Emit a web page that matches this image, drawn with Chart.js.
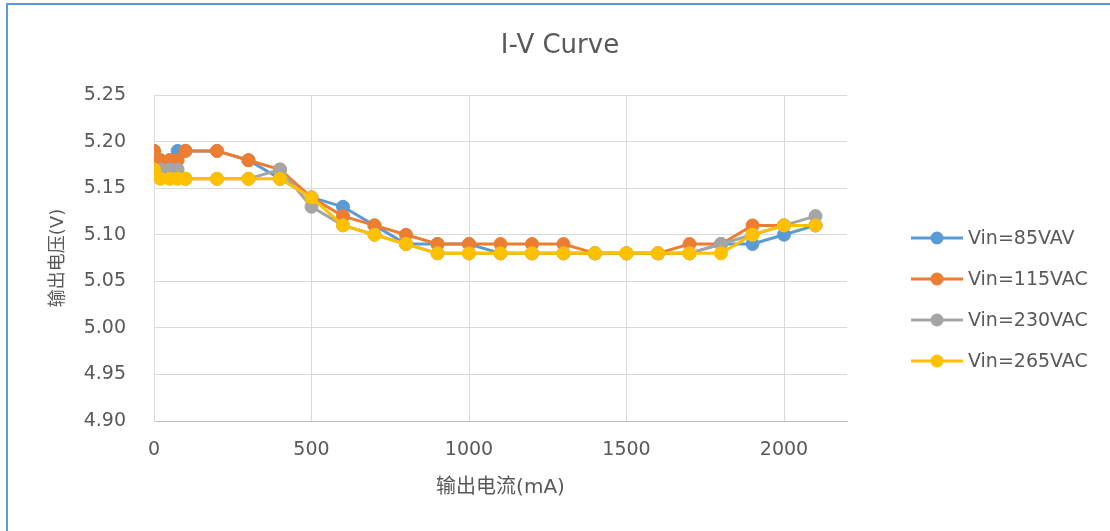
<!DOCTYPE html>
<html>
<head>
<meta charset="utf-8">
<script src="https://cdn.jsdelivr.net/npm/chart.js@4"></script>
<style>
html,body{margin:0;padding:0;background:#fff;}
#wrap{position:relative;width:1110px;height:531px;}
#frame{position:absolute;left:6px;top:3px;width:1110px;height:540px;border-top:2px solid #5B9BD5;border-left:2px solid #5B9BD5;pointer-events:none;}
canvas{position:absolute;left:0;top:0;}
</style>
</head>
<body>
<div id="wrap"><canvas id="c" width="1110" height="531"></canvas><div id="frame"></div></div>
<script>
const chartTitle = "I-V Curve";
const xTitle = "输出电流(mA)";
const yTitle = "输出电压(V)";
const currents = [0, 20, 50, 75, 100, 200, 300, 400, 500, 600, 700, 800, 900, 1000, 1100, 1200, 1300, 1400, 1500, 1600, 1700, 1800, 1900, 2000, 2100];
const seriesNames = ["Vin=85VAV", "Vin=115VAC", "Vin=230VAC", "Vin=265VAC"];
const seriesColors = ["#5B9BD5", "#ED7D31", "#A5A5A5", "#FFC000"];
const vin85  = [5.19, 5.18, 5.18, 5.19, 5.19, 5.19, 5.18, 5.16, 5.14, 5.13, 5.11, 5.09, 5.09, 5.09, 5.08, 5.08, 5.08, 5.08, 5.08, 5.08, 5.08, 5.09, 5.09, 5.10, 5.11];
const vin115 = [5.19, 5.18, 5.18, 5.18, 5.19, 5.19, 5.18, 5.17, 5.14, 5.12, 5.11, 5.10, 5.09, 5.09, 5.09, 5.09, 5.09, 5.08, 5.08, 5.08, 5.09, 5.09, 5.11, 5.11, 5.11];
const vin230 = [5.17, 5.17, 5.17, 5.17, 5.16, 5.16, 5.16, 5.17, 5.13, 5.11, 5.10, 5.09, 5.08, 5.08, 5.08, 5.08, 5.08, 5.08, 5.08, 5.08, 5.08, 5.09, 5.10, 5.11, 5.12];
const vin265 = [5.17, 5.16, 5.16, 5.16, 5.16, 5.16, 5.16, 5.16, 5.14, 5.11, 5.10, 5.09, 5.08, 5.08, 5.08, 5.08, 5.08, 5.08, 5.08, 5.08, 5.08, 5.08, 5.10, 5.11, 5.11];
const seriesValues = [vin85, vin115, vin230, vin265];
const xTicks = [0, 500, 1000, 1500, 2000];
const yTicks = [4.90, 4.95, 5.00, 5.05, 5.10, 5.15, 5.20, 5.25];

const FONT = '"DejaVu Sans", "Noto Sans CJK SC", sans-serif';
const TXT = '#595959';

const datasets = seriesValues.map((vals, i) => ({
  label: seriesNames[i],
  data: currents.map((x, j) => ({x: x, y: vals[j]})),
  borderColor: seriesColors[i],
  backgroundColor: seriesColors[i],
  pointBackgroundColor: seriesColors[i],
  pointBorderColor: seriesColors[i],
  borderWidth: 3,
  pointRadius: 6.5,
  pointBorderWidth: 1,
  pointHoverRadius: 6.5,
  order: seriesValues.length - 1 - i,
  tension: 0
}));

const overlay = {
  id: 'overlay',
  afterDraw(chart) {
    const ctx = chart.ctx;
    ctx.save();
    ctx.fillStyle = TXT;
    ctx.font = '26px ' + FONT;
    ctx.textAlign = 'center';
    ctx.textBaseline = 'middle';
    ctx.fillText(chartTitle, 560, 46);
    const ca = chart.chartArea;
    const step = 41;
    const cy = 299.5;
    const y0 = cy - step * (seriesNames.length - 1) / 2;
    ctx.font = '19px ' + FONT;
    ctx.textAlign = 'left';
    seriesNames.forEach((name, i) => {
      const y = y0 + i * step;
      const lx = ca.right + 64;
      ctx.strokeStyle = seriesColors[i];
      ctx.lineWidth = 3;
      ctx.beginPath();
      ctx.moveTo(lx, y);
      ctx.lineTo(lx + 52, y);
      ctx.stroke();
      ctx.fillStyle = seriesColors[i];
      ctx.beginPath();
      ctx.arc(lx + 26, y, 6.5, 0, Math.PI * 2);
      ctx.fill();
      ctx.fillStyle = TXT;
      ctx.fillText(name, lx + 57, y + 1);
    });
    ctx.restore();
  }
};

new Chart(document.getElementById('c'), {
  type: 'line',
  data: {datasets: datasets},
  plugins: [overlay],
  options: {
    responsive: false,
    animation: false,
    layout: {padding: {left: 40, right: 263, top: 95, bottom: 31}},
    plugins: {legend: {display: false}, title: {display: false}, tooltip: {enabled: false}},
    scales: {
      x: {
        type: 'linear',
        min: 0, max: 2200,
        afterBuildTicks(s) { s.ticks = xTicks.map(v => ({value: v})); },
        afterFit(s) { s.height = 79; },
        grid: {color: '#D9D9D9', lineWidth: 1, drawTicks: false},
        border: {display: true, color: '#BFBFBF', width: 1},
        ticks: {color: TXT, font: {family: FONT, size: 19}, padding: 18, includeBounds: false, callback: v => String(v)},
        title: {display: true, text: xTitle, color: TXT, font: {family: FONT, size: 20}, padding: {top: 4, bottom: 0}}
      },
      y: {
        type: 'linear',
        min: 4.90, max: 5.25,
        afterBuildTicks(s) { s.ticks = yTicks.map(v => ({value: v})); },
        afterFit(s) { s.width = 114; },
        grid: {color: '#D9D9D9', lineWidth: 1, drawTicks: false},
        border: {display: true, color: '#D9D9D9', width: 1},
        ticks: {color: TXT, font: {family: FONT, size: 19}, padding: 28, callback: v => Number(v).toFixed(2)},
        title: {display: true, text: yTitle, color: TXT, font: {family: FONT, size: 18}, padding: {top: 8, bottom: 0}}
      }
    }
  }
});
</script>
</body>
</html>
